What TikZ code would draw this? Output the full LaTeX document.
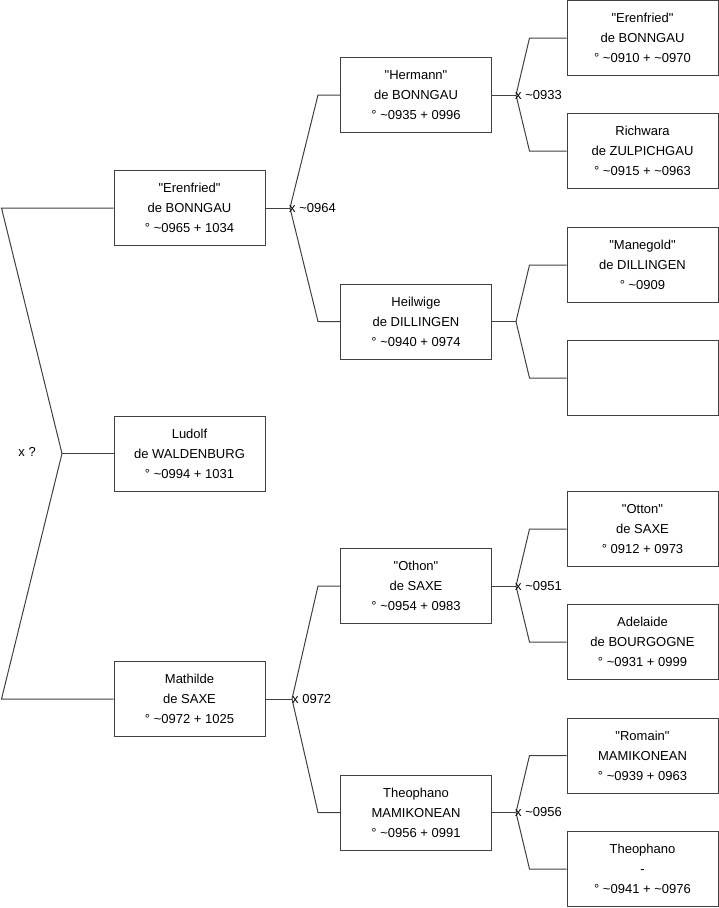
\documentclass[tikz,border=0pt]{standalone}
\usepackage{fontspec}
\setmainfont{Liberation Sans}
\tikzset{pers/.style={draw=black!75,line width=1pt,minimum width=151pt,minimum height=75pt,align=center,inner sep=0pt,font=\fontsize{13}{20}\selectfont},link/.style={draw=black!75,line width=1pt},wed/.style={anchor=west,inner sep=0pt,font=\fontsize{13}{16}\selectfont}}
\newcommand{\ca}{\textasciitilde}
\newcommand{\nick}[1]{\textquotedbl#1\textquotedbl}
\begin{document}
\begin{tikzpicture}[x=1pt,y=-1pt]
\useasboundingbox(0,0)rectangle(719,908);
% generation 1
\node[pers](ere)at(189.5,208){\nick{Erenfried}\\de BONNGAU\\° \ca0965 + 1034};
\node[pers](lud)at(189.5,453.5){Ludolf\\de WALDENBURG\\° \ca0994 + 1031};
\node[pers](mat)at(189.5,699){Mathilde\\de SAXE\\° \ca0972 + 1025};
% generation 2
\node[pers](her)at(416,95){\nick{Hermann}\\de BONNGAU\\° \ca0935 + 0996};
\node[pers](hei)at(416,321.5){Heilwige\\de DILLINGEN\\° \ca0940 + 0974};
\node[pers](oth)at(416,586){\nick{Othon}\\de SAXE\\° \ca0954 + 0983};
\node[pers](theo)at(416,812.5){Theophano\\MAMIKONEAN\\° \ca0956 + 0991};
% generation 3
\node[pers](ere2)at(642.5,38){\nick{Erenfried}\\de BONNGAU\\° \ca0910 + \ca0970};
\node[pers](ric)at(642.5,151){Richwara\\de ZULPICHGAU\\° \ca0915 + \ca0963};
\node[pers](mane)at(642.5,265){\nick{Manegold}\\de DILLINGEN\\° \ca0909};
\node[pers](blank)at(642.5,378){};
\node[pers](ott)at(642.5,529){\nick{Otton}\\de SAXE\\° 0912 + 0973};
\node[pers](ade)at(642.5,642){Adelaide\\de BOURGOGNE\\° \ca0931 + 0999};
\node[pers](rom)at(642.5,755.5){\nick{Romain}\\MAMIKONEAN\\° \ca0939 + 0963};
\node[pers](theo2)at(642.5,869){Theophano\\-\\° \ca0941 + \ca0976};
% forks
\coordinate(f0)at(62,453.5);
\coordinate(f1)at(290,208);
\coordinate(f2)at(516,95);
\coordinate(f3)at(516,321.5);
\coordinate(f4)at(292,699);
\coordinate(f5)at(516,586);
\coordinate(f6)at(516,812.5);
\draw[link](lud.west)--(f0);
\draw[link](ere.west)--++(-112,0)--(f0);
\draw[link](mat.west)--++(-112,0)--(f0);
\foreach\p/\f/\a/\b/\d in{ere/f1/her/hei/22,mat/f4/oth/theo/22,her/f2/ere2/ric/37,hei/f3/mane/blank/37,oth/f5/ott/ade/37,theo/f6/rom/theo2/37}{\draw[link](\p.east)--(\f);\draw[link](\a.west)--++(-\d,0)--(\f);\draw[link](\b.west)--++(-\d,0)--(\f);}
% marriages
\node[wed,anchor=east](w0)at(36,452){x ?};
\node[wed](w1)at([xshift=-1]f1){x \ca0964};
\node[wed](w2)at([xshift=-1]f2){x \ca0933};
\node[wed](w4)at([xshift=0]f4){x 0972};
\node[wed](w5)at([xshift=-1]f5){x \ca0951};
\node[wed](w6)at([xshift=-1]f6){x \ca0956};
\end{tikzpicture}
\end{document}
